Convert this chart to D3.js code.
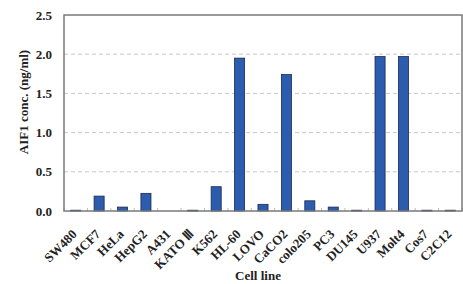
<!DOCTYPE html>
<html><head><meta charset="utf-8">
<script src="https://cdn.jsdelivr.net/npm/d3@7"></script>
<style>body{margin:0;background:#fff}svg{display:block}</style>
</head><body>
<script>
const categories = ["SW480","MCF7","HeLa","HepG2","A431","KATO Ⅲ","K562","HL-60","LOVO","CaCO2","colo205","PC3","DU145","U937","Molt4","Cos7","C2C12"];
const values = [0.01,0.19,0.05,0.225,0,0.01,0.31,1.95,0.085,1.74,0.13,0.05,0.01,1.97,1.97,0.01,0.01];
const yTicks = [0,0.5,1.0,1.5,2.0,2.5];
const yTitle = "AIF1 conc. (ng/ml)";
const xTitle = "Cell line";

const W=463,H=284;
const m={l:64,r:1,t:15,b:73};
const svg=d3.select("body").append("svg").attr("width",W).attr("height",H);
const x=d3.scaleBand().domain(categories).range([m.l,W-m.r]).paddingInner(0.57).paddingOuter(0.285);
const y=d3.scaleLinear().domain([0,2.5]).range([H-m.b,m.t]);
const font="'Liberation Serif','Times New Roman',serif";

// grid
svg.append("g").selectAll("line").data(yTicks.filter(d=>d>0&&d<2.5)).join("line")
 .attr("x1",m.l).attr("x2",W-m.r).attr("y1",d=>y(d)).attr("y2",d=>y(d))
 .attr("stroke","#c8c8c8").attr("stroke-width",1).attr("stroke-dasharray","4,3");

// bars
svg.append("g").selectAll("rect").data(values).join("rect")
 .attr("x",(d,i)=>x(categories[i])).attr("width",x.bandwidth())
 .attr("y",d=>y(d)).attr("height",d=>y(0)-y(d))
 .attr("fill","#2b5cae").attr("stroke","#1a2a50").attr("stroke-width",0.8);

// x ticks (between categories)
const bx=d3.range(categories.length+1).map(i=>m.l+i*((W-m.r-m.l)/categories.length));
svg.append("g").selectAll("line").data(bx).join("line")
 .attr("x1",d=>d).attr("x2",d=>d).attr("y1",y(0)).attr("y2",y(0)-3)
 .attr("stroke","#bbb").attr("stroke-width",1);

// frame
svg.append("rect").attr("x",m.l).attr("y",m.t).attr("width",W-m.r-m.l).attr("height",y(0)-m.t)
 .attr("fill","none").attr("stroke","#7a7a7a").attr("stroke-width",1.5);

// y axis labels
const yAxis=d3.axisLeft(y).tickValues(yTicks).tickFormat(d3.format(".1f")).tickSize(0).tickPadding(12);
const gy=svg.append("g").attr("transform",`translate(${m.l},0)`).call(yAxis);
gy.select(".domain").remove();
gy.selectAll("text").attr("font-family",font).attr("font-weight","bold").attr("font-size",13).attr("fill","#222");

// x labels
svg.append("g").selectAll("text").data(categories).join("text")
 .attr("transform",d=>`translate(${x(d)+x.bandwidth()/2+2},${y(0)+24}) rotate(-45)`)
 .attr("text-anchor","end").attr("font-family",font).attr("font-weight","bold").attr("font-size",13).attr("fill","#222")
 .text(d=>d);

svg.append("text").attr("transform",`translate(28,102) rotate(-90)`)
 .attr("text-anchor","middle").attr("font-family",font).attr("font-weight","bold").attr("font-size",13).attr("fill","#222").text(yTitle);
svg.append("text").attr("x",258).attr("y",280)
 .attr("text-anchor","middle").attr("font-family",font).attr("font-weight","bold").attr("font-size",13).attr("fill","#222").text(xTitle);
</script>
</body></html>
